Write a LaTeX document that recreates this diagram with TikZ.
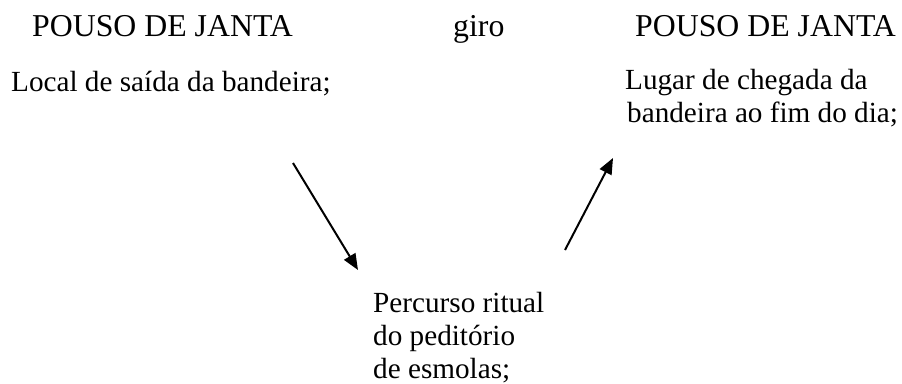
\documentclass[tikz,border=0pt]{standalone}
\usepackage{fontspec}
\setmainfont{Liberation Serif}
\usetikzlibrary{arrows.meta}
\begin{document}
\begin{tikzpicture}[x=1pt,y=-1pt,
  title/.style={anchor=base west,inner sep=0pt,font=\fontsize{31.8}{36}\selectfont},
  body/.style={anchor=base west,inner sep=0pt,align=left,font=\fontsize{29.2}{32.8}\selectfont},
  arr/.style={line width=2pt,-{Triangle[length=16pt,width=13pt]}}]
\useasboundingbox (0,0) rectangle (902,383);
\node[title] (t1) at (32,36) {POUSO DE JANTA};
\node[title] (giro) at (453,36) {giro};
\node[title] (t2) at (635,36) {POUSO DE JANTA};
\node[body] (l1) at (11,91) {Local de saída da bandeira;};
\node[body] (l2) at (625,122) {Lugar de chegada da\\\hspace*{2pt}bandeira ao fim do dia;};
\node[body] (l3) at (373,378) {Percurso ritual\\do peditório\\de esmolas;};
\coordinate (a1s) at (293,163);
\coordinate (a1e) at (358,270);
\coordinate (a2s) at (565,250);
\coordinate (a2e) at (613,158);
\draw[arr] (a1s) -- (a1e);
\draw[arr] (a2s) -- (a2e);
\end{tikzpicture}
\end{document}
